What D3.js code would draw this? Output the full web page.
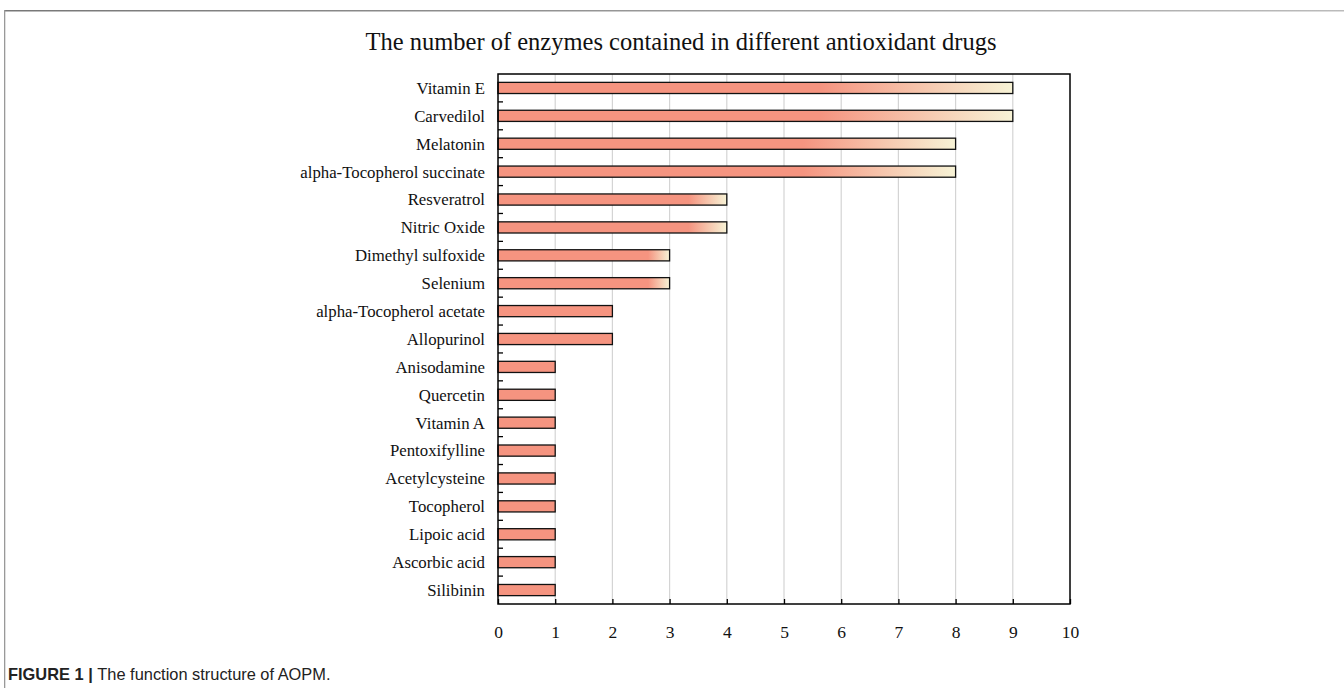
<!DOCTYPE html>
<html><head><meta charset="utf-8">
<script src="https://cdn.jsdelivr.net/npm/d3@7"></script>
<style>body{margin:0;background:#fff;}svg{display:block;}</style>
</head><body>
<script>
const categories = ["Vitamin E","Carvedilol","Melatonin","alpha-Tocopherol succinate","Resveratrol","Nitric Oxide","Dimethyl sulfoxide","Selenium","alpha-Tocopherol acetate","Allopurinol","Anisodamine","Quercetin","Vitamin A","Pentoxifylline","Acetylcysteine","Tocopherol","Lipoic acid","Ascorbic acid","Silibinin"];
const values = [9,9,8,8,4,4,3,3,2,2,1,1,1,1,1,1,1,1,1];
const xTicks = [0,1,2,3,4,5,6,7,8,9,10];
const title = "The number of enzymes contained in different antioxidant drugs";
const caption = ["FIGURE 1 | ", "The function structure of AOPM."];

const W = 1344, H = 697;
const m = {left: 498, right: 1070, top: 74, bottom: 604};
const svg = d3.select("body").append("svg").attr("width", W).attr("height", H);
const serif = "'Liberation Serif','Times New Roman',serif";

const salmon = "#f59480", cream = "#f7f3d6";
const defs = svg.append("defs");
values.forEach((v, i) => {
  const g = defs.append("linearGradient").attr("id", "g" + i).attr("x1", "0%").attr("x2", "100%");
  const start = Math.max(0, 1 - v / 24);
  const endCol = v >= 3 ? cream : salmon;
  g.append("stop").attr("offset", 0).attr("stop-color", salmon);
  g.append("stop").attr("offset", start).attr("stop-color", salmon);
  g.append("stop").attr("offset", 1).attr("stop-color", endCol);
});

// frame
const fg = defs.append("linearGradient").attr("id", "frame").attr("x1","0%").attr("x2","100%");
fg.append("stop").attr("offset",0).attr("stop-color","#777");
fg.append("stop").attr("offset",1).attr("stop-color","#bbb");
svg.append("rect").attr("x",4).attr("y",10).attr("width",W-4).attr("height",1.5).attr("fill","url(#frame)");
svg.append("rect").attr("x",4).attr("y",10).attr("width",1.3).attr("height",678).attr("fill","#999");

const x = d3.scaleLinear().domain([0, 10]).range([m.left, m.right]);
const y = d3.scaleBand().domain(categories).range([m.top, m.bottom]).paddingInner(0.6).paddingOuter(0.3);
const yb = d3.scaleBand().domain(categories).range([m.top, m.bottom]);

// gridlines
svg.append("g").selectAll("line").data(xTicks.filter(t => t > 0 && t < 10)).join("line")
  .attr("x1", d => x(d)).attr("x2", d => x(d)).attr("y1", m.top).attr("y2", m.bottom)
  .attr("stroke", "#d4d4d4").attr("stroke-width", 1.2);

// bars
svg.append("g").selectAll("rect").data(values).join("rect")
  .attr("x", x(0)).attr("y", (d, i) => y(categories[i]))
  .attr("width", d => x(d) - x(0)).attr("height", y.bandwidth())
  .attr("fill", (d, i) => `url(#g${i})`).attr("stroke", "#111").attr("stroke-width", 1.3);

// plot box
svg.append("rect").attr("x", m.left).attr("y", m.top).attr("width", m.right - m.left).attr("height", m.bottom - m.top)
  .attr("fill", "none").attr("stroke", "#000").attr("stroke-width", 1.5);

// y ticks (inward, between categories)
svg.append("g").selectAll("line").data(categories.slice(1)).join("line")
  .attr("x1", m.left).attr("x2", m.left + 5).attr("y1", d => yb(d)).attr("y2", d => yb(d))
  .attr("stroke", "#000").attr("stroke-width", 1.3);

// x axis ticks inward
const xAxis = d3.axisBottom(x).tickValues(xTicks).tickSize(-5).tickPadding(22).tickFormat(d3.format("d"));
const ax = svg.append("g").attr("transform", `translate(0,${m.bottom})`).call(xAxis);
ax.select(".domain").remove();
ax.selectAll("line").attr("stroke", "#000").attr("stroke-width", 1.3);
ax.selectAll("text").attr("font-family", serif).attr("font-size", 17.5).attr("fill", "#111");

// category labels
svg.append("g").selectAll("text").data(categories).join("text")
  .attr("x", m.left - 13).attr("y", d => yb(d) + yb.bandwidth() / 2).attr("dy", "0.35em")
  .attr("text-anchor", "end").attr("font-family", serif)
  .attr("font-size", 16.8).attr("fill", "#111").text(d => d);

// title
svg.append("text").attr("x", 681).attr("y", 50).attr("text-anchor", "middle")
  .attr("font-family", serif).attr("font-size", 24.5).attr("fill", "#111")
  .text(title);

// caption
const cap = svg.append("text").attr("x", 8).attr("y", 680)
  .attr("font-family", "'Liberation Sans',Arial,sans-serif").attr("font-size", 16.4).attr("fill", "#222");
cap.append("tspan").attr("font-weight", "bold").text(caption[0]);
cap.append("tspan").text(caption[1]);
</script>
</body></html>
